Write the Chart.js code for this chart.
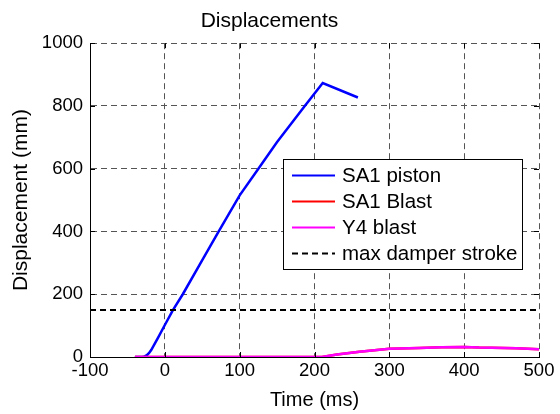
<!DOCTYPE html>
<html>
<head>
<meta charset="utf-8">
<script src="https://cdn.jsdelivr.net/npm/chart.js@4.4.0/dist/chart.umd.min.js"></script>
<style>
  html, body { margin: 0; padding: 0; background: #fff; }
  #wrap { width: 560px; height: 414px; }
</style>
</head>
<body>
<div id="wrap"><canvas id="myChart" width="560" height="414"></canvas></div>
<script>
// data
var pistonTime = [-40, -30, -27, -24, -21, -18, -14, -9, 0, 11, 24, 50, 72, 100, 125, 150, 187, 211, 258];
var pistonDisp = [0, 0, 2, 6, 13, 23, 40, 62, 102, 150, 200, 309, 400, 515, 600, 685, 800, 873, 827];

var blastTime = [-40, 210, 230, 260, 300, 340, 370, 400, 420, 470, 500];
var sa1Blast = [0, 0, 8, 17, 26, 29, 31, 32, 30, 28, 25];
var y4Blast = [0, 0, 8, 17, 26, 29, 31, 32, 30, 28, 25];

var strokeTime = [-100, 500];
var strokeDisp = [150, 150];

var xTicks = [-100, 0, 100, 200, 300, 400, 500];
var yTicks = [0, 200, 400, 600, 800, 1000];

var legendNames = ["SA1 piston", "SA1 Blast", "Y4 blast", "max damper stroke"];

function pairs(xs, ys) {
  return xs.map(function (x, i) { return { x: x, y: ys[i] }; });
}

var font = "'Liberation Sans', Arial, sans-serif";

// matlab style inward ticks on all four sides
var innerTicks = {
  id: 'innerTicks',
  afterDatasetsDraw: function (chart) {
    var c = chart.ctx, a = chart.chartArea;
    var xs = chart.scales.x, ys = chart.scales.y;
    c.save();
    c.strokeStyle = '#000';
    c.lineWidth = 1;
    c.beginPath();
    xTicks.forEach(function (t) {
      var px = Math.round(xs.getPixelForValue(t)) + 0.5;
      c.moveTo(px, a.bottom); c.lineTo(px, a.bottom - 5);
      c.moveTo(px, a.top); c.lineTo(px, a.top + 5);
    });
    yTicks.forEach(function (t) {
      var py = Math.round(ys.getPixelForValue(t)) + 0.5;
      c.moveTo(a.left, py); c.lineTo(a.left + 5, py);
      c.moveTo(a.right, py); c.lineTo(a.right - 5, py);
    });
    c.stroke();
    c.restore();
  }
};

// legend box inside the plot
var boxLegend = {
  id: 'boxLegend',
  afterDraw: function (chart) {
    var c = chart.ctx;
    var x0 = 283.5, y0 = 159.5, w = 239, h = 110;
    var colors = ['#0000ff', '#ff0000', '#ff00ff', '#000000'];
    c.save();
    c.fillStyle = '#fff';
    c.fillRect(x0, y0, w, h);
    c.strokeStyle = '#000';
    c.lineWidth = 1;
    c.strokeRect(x0, y0, w, h);
    c.font = '20.5px ' + font;
    c.textBaseline = 'middle';
    legendNames.forEach(function (name, i) {
      var cy = 175.5 + i * 26;
      c.beginPath();
      c.strokeStyle = colors[i];
      c.lineWidth = 2;
      c.setLineDash(i === 3 ? [6, 4] : []);
      c.moveTo(292, cy); c.lineTo(335, cy);
      c.stroke();
      c.setLineDash([]);
      c.fillStyle = '#000';
      c.fillText(name, 342, cy + 1);
    });
    c.restore();
  }
};

const ctx = document.getElementById('myChart');

new Chart(ctx, {
  type: 'line',
  data: {
    datasets: [
      {
        label: legendNames[0],
        data: pairs(pistonTime, pistonDisp),
        borderColor: '#0000ff',
        borderWidth: 2.5,
        pointRadius: 0,
        tension: 0,
        order: 3,
      },
      {
        label: legendNames[1],
        data: pairs(blastTime, sa1Blast),
        borderColor: '#ff0000',
        borderWidth: 2.5,
        pointRadius: 0,
        order: 2,
      },
      {
        label: legendNames[2],
        data: pairs(blastTime, y4Blast),
        borderColor: '#ff00ff',
        borderWidth: 2.5,
        pointRadius: 0,
        order: 1,
      },
      {
        label: legendNames[3],
        data: pairs(strokeTime, strokeDisp),
        borderColor: '#000000',
        borderWidth: 2,
        borderDash: [6, 4],
        pointRadius: 0,
        order: 0,
      },
    ],
  },
  options: {
    responsive: false,
    animation: false,
    layout: { padding: { left: 0, right: 21, top: 0, bottom: 0 } },
    plugins: {
      legend: { display: false },
      tooltip: { enabled: false },
      title: {
        display: true,
        text: 'Displacements',
        color: '#000',
        font: { family: font, size: 21, weight: 'normal' },
        padding: { top: 9, bottom: 9 },
      },
    },
    scales: {
      x: {
        type: 'linear',
        min: -100,
        max: 500,
        afterBuildTicks: function (s) { s.ticks = xTicks.map(function (v) { return { value: v }; }); },
        afterFit: function (s) { s.height = 57; },
        ticks: {
          color: '#000',
          font: { family: font, size: 18.5 },
          padding: 3,
          callback: function (v) { return String(v); },
        },
        grid: { color: '#555', drawTicks: false },
        border: { display: true, color: '#000', width: 1, dash: [6, 4] },
        title: {
          display: true,
          text: 'Time (ms)',
          color: '#000',
          font: { family: font, size: 20 },
          padding: { top: 0, bottom: 2 },
        },
      },
      y: {
        min: 0,
        max: 1000,
        afterBuildTicks: function (s) { s.ticks = yTicks.map(function (v) { return { value: v }; }); },
        afterFit: function (s) { s.width = 90; },
        ticks: {
          color: '#000',
          font: { family: font, size: 18.5 },
          padding: 7,
          callback: function (v) { return String(v); },
        },
        grid: { color: '#555', drawTicks: false },
        border: { display: true, color: '#000', width: 1, dash: [6, 4] },
        title: {
          display: true,
          text: 'Displacement (mm)',
          color: '#000',
          font: { family: font, size: 21 },
          padding: { top: 9, bottom: 0 },
        },
      },
    },
  },
  plugins: [innerTicks, boxLegend],
});
</script>
</body>
</html>
